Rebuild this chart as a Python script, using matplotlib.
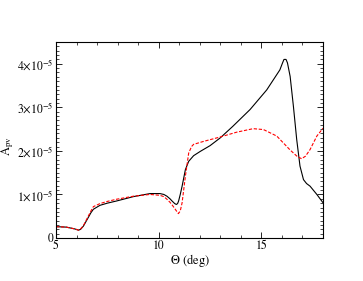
import numpy as np
import matplotlib
matplotlib.use('Agg')
import matplotlib.pyplot as plt
from matplotlib.ticker import MultipleLocator, FixedLocator

plt.rcParams['font.family'] = ['STIXGeneral', 'DejaVu Serif']
plt.rcParams['mathtext.fontset'] = 'stix'

# black solid curve (theta in deg, A_pv in units of 1e-5)
th_black = [5.0, 5.5, 5.9, 6.1, 6.2, 6.33, 6.45, 6.57, 6.7, 6.82, 7.14, 7.5, 7.95, 8.77, 9.58, 10.06,
            10.25, 10.4, 10.55, 10.65, 10.78, 10.86, 10.92, 10.97, 11.05, 11.14, 11.3, 11.46, 11.7,
            12.03, 12.5, 13.0, 13.6, 14.45, 15.26, 15.9, 16.03, 16.1, 16.2, 16.27, 16.4, 16.56,
            16.72, 16.88, 17.05, 17.2, 17.37, 17.7, 18.0]
a_black = [0.26, 0.25, 0.21, 0.18, 0.20, 0.27, 0.37, 0.47, 0.58, 0.66, 0.75, 0.80, 0.85, 0.95, 1.02, 1.02,
           1.00, 0.96, 0.90, 0.85, 0.79, 0.77, 0.79, 0.85, 1.00, 1.19, 1.57, 1.76, 1.89,
           1.99, 2.12, 2.30, 2.56, 2.95, 3.40, 3.86, 4.02, 4.10, 4.10, 4.02, 3.71, 3.02,
           2.26, 1.65, 1.34, 1.25, 1.19, 1.00, 0.81]

# red dashed curve
th_red = [5.0, 5.5, 5.9, 6.1, 6.2, 6.33, 6.45, 6.57, 6.7, 6.82, 7.14, 7.5, 7.95, 8.77, 9.58, 10.06,
          10.25, 10.4, 10.55, 10.7, 10.85, 10.96, 11.05, 11.14, 11.3, 11.46, 11.6, 11.7, 12.2,
          13.0, 13.8, 14.6, 15.1, 15.75, 16.4, 16.75, 16.96, 17.15, 17.37, 17.7, 18.0]
a_red = [0.26, 0.25, 0.21, 0.18, 0.21, 0.28, 0.39, 0.50, 0.62, 0.72, 0.79, 0.84, 0.89, 0.96, 1.00, 0.98,
         0.95, 0.89, 0.82, 0.73, 0.63, 0.56, 0.62, 0.81, 1.42, 1.95, 2.10, 2.15, 2.22,
         2.32, 2.43, 2.51, 2.49, 2.34, 2.02, 1.87, 1.82, 1.88, 2.03, 2.34, 2.52]

ytick_vals = [0, 1, 2, 3, 4]
ytick_labels = ['0', r'$1{\times}10^{-5}$', r'$2{\times}10^{-5}$',
                r'$3{\times}10^{-5}$', r'$4{\times}10^{-5}$']

fig = plt.figure(figsize=(3.63, 2.81), dpi=100)
ax = fig.add_axes([56 / 363, 1 - 238 / 281, 267 / 363, 196 / 281])

ax.plot(th_black, a_black, color='black', lw=0.8)
ax.plot(th_red, a_red, color='red', lw=0.8, ls=(0, (3, 1.5)))

ax.set_xlim(5, 18)
ax.set_ylim(0, 4.5)
ax.xaxis.set_major_locator(MultipleLocator(5))
ax.xaxis.set_minor_locator(MultipleLocator(1))
ax.yaxis.set_major_locator(FixedLocator(ytick_vals))
ax.yaxis.set_minor_locator(MultipleLocator(0.1))
ax.set_yticklabels(ytick_labels)
ax.tick_params(which='both', direction='in', top=True, right=True, labelsize=8.5, pad=1.5)
ax.tick_params(which='major', length=4, width=0.6)
ax.tick_params(which='minor', length=2, width=0.5)
for s in ax.spines.values():
    s.set_linewidth(0.8)

ax.set_xlabel(r'$\Theta$ (deg)', fontsize=9, labelpad=0)
ax.set_ylabel(r'A$_{\rm pv}$', fontsize=9)
ax.yaxis.set_label_coords(-0.15, 0.47)

fig.savefig('out.png', dpi=100)
